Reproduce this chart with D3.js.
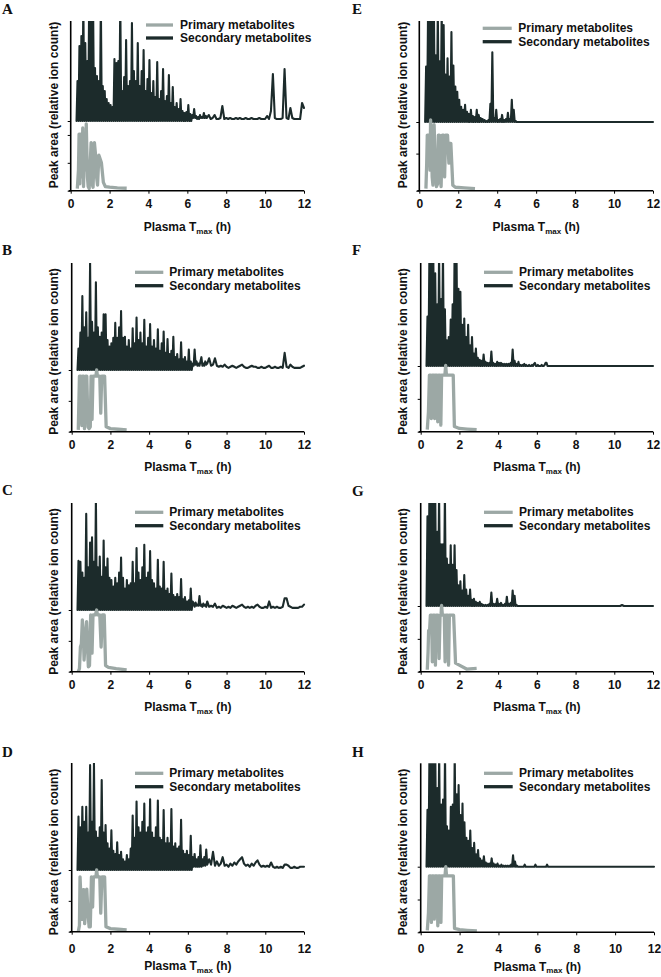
<!DOCTYPE html>
<html><head><meta charset="utf-8">
<script src="https://cdn.jsdelivr.net/npm/d3@7"></script>
<style>body{margin:0;background:#fff}svg{display:block}</style>
</head><body>
<svg id="chart" width="661" height="977"></svg>
<script>
// ---------- DATA ----------
// Plasma Tmax sampling grid (h) for the secondary-metabolite traces
const tmaxGrid = [
0.30,0.35,0.40,0.45,0.50,0.55,0.60,0.65,0.70,0.75,0.80,0.85,0.90,0.95,1.00,1.05,1.10,1.15,1.20,1.25,
1.30,1.35,1.40,1.45,1.50,1.55,1.60,1.65,1.70,1.75,1.80,1.85,1.90,1.95,2.00,2.05,2.10,2.15,2.20,2.25,
2.30,2.35,2.40,2.45,2.50,2.55,2.60,2.65,2.70,2.75,2.80,2.85,2.90,2.95,3.00,3.05,3.10,3.15,3.20,3.25,
3.30,3.35,3.40,3.45,3.50,3.55,3.60,3.65,3.70,3.75,3.80,3.85,3.90,3.95,4.00,4.05,4.10,4.15,4.20,4.25,
4.30,4.35,4.40,4.45,4.50,4.55,4.60,4.65,4.70,4.75,4.80,4.85,4.90,4.95,5.00,5.05,5.10,5.15,5.20,5.25,
5.30,5.35,5.40,5.45,5.50,5.55,5.60,5.65,5.70,5.75,5.80,5.85,5.90,5.95,6.00,6.05,6.10,6.15,6.20,6.25,
6.30,6.35,6.40,6.45,6.50,6.55,6.60,6.65,6.70,6.75,6.80,6.85,6.90,6.95,7.00,
7.1,7.2,7.3,7.4,7.5,7.6,7.7,7.8,7.9,8.0,
8.1,8.2,8.3,8.4,8.5,8.6,8.7,8.8,8.9,9.0,
9.1,9.2,9.3,9.4,9.5,9.6,9.7,9.8,9.9,10.0,
10.1,10.2,10.3,10.4,10.5,10.6,10.7,10.8,10.9,11.0,
11.1,11.2,11.3,11.4,11.5,11.6,11.7,11.8,11.9,12.0];

// Secondary metabolites, peak area (relative, 100 = top of panel)
const secA = [
0,40,0,75,0,85,0,120,0,78,0,60,0,120,0,120,0,120,0,53,
0,45,0,40,0,120,0,35,0,30,0,22,0,18,0,16,0,14,0,62,
0,58,0,60,0,120,0,30,0,44,0,81,0,35,0,40,0,98,0,50,
0,40,0,78,0,35,0,50,0,71,0,30,0,42,0,61,0,28,0,40,
0,24,0,59,0,22,0,30,0,52,0,20,0,25,0,46,0,18,0,34,
0,14,0,18,0,12,0,22,0,10,0,8,0,9,0,16,0,7,0,6,
3,12,3,5,2,4,2,6,3,4,3,8,3,5,3,
6,2,3,6,2,2,3,15,2,3,
2,3,2,2,3,2,3,2,2,3,
2,2,3,2,2,2,3,2,2,2,
5,2,10,47,3,2,2,2,3,52,
3,2,13,3,2,2,2,2,18,13];
const secB = [
0,20,0,35,0,69,0,40,0,54,0,30,0,100,0,45,0,35,0,82,
0,40,0,31,0,35,0,52,0,52,0,28,0,22,0,25,0,30,0,44,
0,30,0,40,0,55,0,30,0,31,0,22,0,28,0,20,0,39,0,25,
0,49,0,28,0,35,0,25,0,47,0,22,0,30,0,43,0,22,0,28,
0,20,0,38,0,18,0,25,0,36,0,16,0,29,0,15,0,18,0,31,
0,12,0,15,0,10,0,26,0,10,0,12,0,8,0,19,0,8,0,6,
4,19,5,8,4,6,4,8,12,4,6,4,8,5,6,
11,4,5,11,4,3,4,3,5,3,
2,3,4,3,2,3,4,5,3,2,
2,3,4,3,3,2,2,3,2,2,
3,4,2,2,3,2,2,3,2,16,
3,2,5,3,2,2,2,2,3,4];
const secC = [
0,46,0,45,0,35,0,30,0,90,0,40,0,63,0,68,0,45,0,105,
0,40,0,50,0,31,0,65,0,40,0,48,0,30,0,28,0,22,0,30,
0,25,0,35,0,49,0,30,0,20,0,28,0,23,0,25,0,45,0,25,
0,58,0,35,0,28,0,40,0,61,0,30,0,35,0,55,0,28,0,25,
0,20,0,47,0,22,0,20,0,45,0,18,0,20,0,15,0,34,0,14,
0,12,0,15,0,12,0,29,0,10,0,12,0,8,0,9,0,20,0,8,
6,3,7,4,5,4,13,4,5,3,6,4,5,3,8,
3,4,3,6,2,3,2,4,3,2,
3,2,4,3,2,3,4,5,3,2,
3,2,3,2,4,5,3,2,2,3,
2,8,2,3,2,3,2,2,3,11,
11,4,3,2,2,2,2,3,3,5];
const secD = [
0,50,0,40,0,59,0,45,0,59,0,35,0,98,0,45,0,100,0,36,
0,30,0,40,0,84,0,35,0,42,0,25,0,20,0,37,0,18,0,15,
0,26,0,14,0,17,0,10,0,8,0,14,0,10,0,20,0,51,0,30,
0,64,0,40,0,35,0,45,0,62,0,35,0,40,0,66,0,35,0,30,
0,40,0,65,0,30,0,28,0,56,0,25,0,30,0,25,0,57,0,22,
0,25,0,20,0,22,0,47,0,18,0,15,0,18,0,14,0,32,0,12,
3,15,3,10,3,12,3,23,3,10,4,12,4,19,5,
10,5,17,4,8,4,6,12,4,5,
3,6,4,7,5,8,10,12,6,4,
5,3,6,4,7,9,5,3,4,3,
4,3,7,3,2,3,2,3,2,5,
5,4,2,2,3,2,2,3,3,3];
const secE = [
0,55,0,110,0,110,0,110,0,110,0,66,0,110,0,60,0,110,0,96,
0,47,0,63,0,45,0,89,0,56,0,35,0,30,0,22,0,15,0,12,
0,17,0,10,0,8,0,12,0,6,0,5,0,12,0,7,0,4,0,3,
0,2,0,1,0,2,0,18,0,69,0,4,0,12,0,2,0,3,0,7,
0,2,0,3,0,9,0,3,0,22,0,12,0,1,0,0,0,0,0,0,
0,0,0,0,0,0,0,0,0,0,0,0,0,0,0,0,0,0,0,0,
0,0,0,0,0,0,0,0,0,0,0,0,0,0,0,
0,0,0,0,0,0,0,0,0,0,
0,0,0,0,0,0,0,0,0,0,
0,0,0,0,0,0,0,0,0,0,
0,0,0,0,0,0,0,0,0,0,
0,0,0,0,0,0,0,0,0,0];
const secF = [
0,48,0,110,0,110,0,110,0,90,0,60,0,110,0,65,0,110,0,55,
0,25,0,28,0,45,0,60,0,110,0,110,0,75,0,72,0,40,0,46,
0,28,0,40,0,20,0,28,0,12,0,17,0,8,0,6,0,5,0,11,
0,4,0,3,0,3,0,14,0,3,0,2,0,4,0,3,0,3,0,2,
0,2,0,2,0,2,0,3,0,16,0,5,0,2,0,4,0,1,0,1,
0,2,0,1,0,0,1,0,0,1,0,2,3,0,0,1,0,0,0,1,
0,0,1,3,3,0,0,0,0,0,0,0,0,0,0,
0,0,0,0,0,0,0,0,0,0,
0,0,0,0,0,0,0,0,0,0,
0,0,0,0,0,0,0,0,0,0,
0,0,0,0,0,0,0,0,0,0,
0,0,0,0,0,0,0,0,0,0];
const secG = [
0,87,0,110,0,110,0,110,0,110,0,72,0,110,0,60,0,60,0,110,
0,46,0,40,0,59,0,40,0,59,0,35,0,20,0,24,0,15,0,30,
0,16,0,10,0,16,0,6,0,7,0,4,0,3,0,4,0,2,0,1,
0,1,0,1,0,2,0,13,0,2,0,2,0,7,0,2,0,3,0,1,
0,2,0,9,0,2,0,3,0,15,0,10,0,1,0,0,0,0,0,0,
0,0,0,0,0,0,0,0,0,0,0,0,0,0,0,0,0,0,0,0,
0,0,0,0,0,0,0,0,0,0,0,0,0,0,0,
0,0,0,0,0,0,0,0,0,0,
0,0,0,0,0,0,0,0,0,0,
0,0,0,0,0,0,0,0,0,0,
0,0,0,1,0,0,0,0,0,0,
0,0,0,0,0,0,0,0,0,0];
const secH = [
0,55,0,110,0,110,0,110,0,110,0,76,0,110,0,60,0,65,0,110,
0,39,0,35,0,58,0,60,0,110,0,70,0,79,0,50,0,61,0,43,
0,28,0,25,0,35,0,18,0,23,0,12,0,16,0,8,0,6,0,10,
0,4,0,3,0,3,0,8,0,3,0,2,0,3,0,1,0,2,0,1,
0,1,0,1,0,1,0,2,0,11,0,5,0,1,0,0,0,0,0,0,
0,2,0,0,0,0,0,0,0,0,0,0,2,0,0,0,0,0,0,0,
0,0,0,0,2,0,0,0,0,0,0,0,0,0,0,
0,0,0,0,0,0,0,0,0,0,
0,0,0,0,0,0,0,0,0,0,
0,0,0,0,0,0,0,0,0,0,
0,0,0,0,0,0,0,0,0,0,
0,0,0,0,0,0,0,0,0,0];

// Primary metabolites [Tmax (h), peak area (relative, 100 = secondary baseline)]
const priA = [[0.34,3],[0.40,30],[0.43,81],[0.47,10],[0.50,81],[0.55,78],[0.58,20],[0.62,90],[0.66,6],[0.72,82],[0.76,30],[0.80,96],[0.86,20],[0.90,6],[0.95,3],[1.05,69],[1.10,10],[1.15,5],[1.22,69],[1.28,51],[1.33,20],[1.38,8],[1.45,51],[1.52,45],[1.58,40],[1.68,12],[1.78,6],[2.0,5],[2.4,4],[2.88,3.5]];
const priB = [[0.34,3],[0.40,90],[0.47,90],[0.52,10],[0.56,90],[0.62,90],[0.66,5],[0.72,90],[0.78,90],[0.84,8],[0.90,5],[0.96,8],[1.00,90],[1.05,20],[1.10,90],[1.25,90],[1.29,100],[1.33,90],[1.45,90],[1.50,30],[1.55,90],[1.70,90],[1.78,8],[2.0,5],[2.4,4],[2.84,3]];
const priC = [[0.34,0],[0.40,5],[0.45,40],[0.50,45],[0.55,84],[0.60,60],[0.64,19],[0.70,50],[0.77,81],[0.82,40],[0.86,8],[0.92,10],[0.98,92],[1.05,30],[1.10,92],[1.22,92],[1.29,100],[1.33,92],[1.45,92],[1.52,40],[1.58,92],[1.68,92],[1.75,10],[1.9,7],[2.3,5],[2.84,3]];
const priD = [[0.34,0],[0.40,10],[0.43,89],[0.47,60],[0.50,68],[0.55,20],[0.59,68],[0.63,68],[0.67,13],[0.72,40],[0.78,69],[0.84,30],[0.90,8],[0.96,8],[1.02,89],[1.08,40],[1.12,89],[1.25,89],[1.29,100],[1.33,89],[1.45,89],[1.50,30],[1.56,89],[1.70,89],[1.77,8],[2.0,5],[2.4,4],[2.84,3]];
const priE = [[0.34,3],[0.38,40],[0.41,81],[0.50,81],[0.55,30],[0.58,103],[0.62,81],[0.66,20],[0.70,8],[0.76,96],[0.80,60],[0.88,6],[0.94,10],[0.98,81],[1.03,81],[1.08,20],[1.12,6],[1.18,81],[1.25,81],[1.30,20],[1.35,81],[1.45,81],[1.52,40],[1.56,69],[1.62,69],[1.72,8],[1.85,5],[2.3,4],[2.86,3]];
const priF = [[0.34,3],[0.40,30],[0.45,86],[0.52,86],[0.55,20],[0.58,86],[0.68,86],[0.72,20],[0.75,86],[0.84,86],[0.88,15],[0.92,86],[1.00,86],[1.04,10],[1.08,86],[1.25,86],[1.29,101],[1.33,86],[1.68,86],[1.74,8],[2.0,5],[2.4,4],[2.89,3]];
const priG = [[0.34,3],[0.38,30],[0.41,63],[0.46,63],[0.50,86],[0.56,86],[0.60,15],[0.64,86],[0.72,86],[0.76,10],[0.80,86],[0.90,86],[0.95,20],[1.00,86],[1.05,86],[1.08,101],[1.12,86],[1.22,86],[1.26,15],[1.30,86],[1.40,86],[1.44,10],[1.48,86],[1.70,86],[1.80,13],[2.37,4],[2.89,5]];
const priH = [[0.34,3],[0.40,30],[0.45,86],[0.52,86],[0.55,15],[0.58,86],[0.66,86],[0.70,20],[0.74,86],[0.84,86],[0.88,10],[0.92,86],[1.00,86],[1.04,15],[1.08,86],[1.25,86],[1.29,100],[1.33,86],[1.68,86],[1.74,6],[2.0,4],[2.4,3],[2.89,2]];

const panelIds = ['A','B','C','D','E','F','G','H'];
const xTickValues = [0,2,4,6,8,10,12];
const legendLabels = ['Primary metabolites','Secondary metabolites'];
const yAxisTitle = 'Peak area (relative ion count)';
const xAxisTitle = ['Plasma T','max',' (h)'];

// ---------- LAYOUT (pixel positions per panel) ----------
const layout = {
  A:{x0:70.7,x1:304,top:21,base:121,axis:190.7,tickBase:208.5,titleBase:231,lx:2,ly:13.5,gx1:146,gx2:173,gy1:25,gy2:38,gtx:180,ylx:54,yly:105,pt:[0,40,80]},
  B:{x0:71.7,x1:304,top:263,base:370,axis:431.7,tickBase:449,titleBase:471,lx:2,ly:255,gx1:135,gx2:163.3,gy1:272.3,gy2:285.7,gtx:169.3,ylx:54,yly:351.5,pt:[0,50]},
  C:{x0:71.7,x1:304,top:503,base:610,axis:671.7,tickBase:689,titleBase:711,lx:2,ly:495,gx1:135,gx2:163.3,gy1:512.3,gy2:525.7,gtx:169.3,ylx:54,yly:591.5,pt:[0,50]},
  D:{x0:71.7,x1:304,top:763,base:870,axis:931.7,tickBase:953.5,titleBase:970,lx:2,ly:757,gx1:135,gx2:163.3,gy1:773.3,gy2:786.7,gtx:169.3,ylx:54,yly:852,pt:[0,50]},
  E:{x0:419.3,x1:653,top:21,base:122,axis:190.7,tickBase:208.5,titleBase:231,lx:352,ly:13.5,gx1:482.7,gx2:511.7,gy1:28.3,gy2:41.7,gtx:518.3,ylx:402.5,yly:105,pt:[0,54]},
  F:{x0:420.7,x1:653,top:263,base:366,axis:431.7,tickBase:449,titleBase:471,lx:352,ly:255,gx1:484,gx2:512.7,gy1:272.3,gy2:285.7,gtx:519,ylx:402.5,yly:351.5,pt:[0,50]},
  G:{x0:420.7,x1:653,top:503,base:606,axis:671.7,tickBase:689,titleBase:711,lx:352,ly:496,gx1:484,gx2:512.7,gy1:512.3,gy2:525.7,gtx:519,ylx:402.5,yly:591.5,pt:[0,50]},
  H:{x0:420.7,x1:654,top:763.3,base:866.7,axis:932.3,tickBase:953,titleBase:970.5,lx:352,ly:757,gx1:484,gx2:512.7,gy1:773.3,gy2:786.7,gtx:519,ylx:402.5,yly:852,pt:[0,50]}
};
const secSeries = {A:secA,B:secB,C:secC,D:secD,E:secE,F:secF,G:secG,H:secH};
const priSeries = {A:priA,B:priB,C:priC,D:priD,E:priE,F:priF,G:priG,H:priH};

const DARK = '#1c2b2b', GRAY = '#9ca8a5';
const SANS = '"Liberation Sans", Arial, Helvetica, sans-serif';
const SERIF = '"Liberation Serif", "Times New Roman", serif';

const svg = d3.select('#chart');
const defs = svg.append('defs');

panelIds.forEach(id => {
  const L = layout[id];
  const sec = secSeries[id], pri = priSeries[id];
  if (sec.length !== tmaxGrid.length) console.error('length mismatch', id, sec.length);
  const g = svg.append('g').attr('class','panel-'+id);
  const x = d3.scaleLinear().domain([0,12]).range([L.x0, L.x1]);
  const ySec = d3.scaleLinear().domain([0,100]).range([L.base, L.top]);
  const yPri = d3.scaleLinear().domain([0,100]).range([L.axis, L.base]);

  defs.append('clipPath').attr('id','clip'+id).append('rect')
    .attr('x', L.x0).attr('y', L.top).attr('width', L.x1 - L.x0 + 4).attr('height', L.base - L.top + 2);

  // secondary metabolites
  const secPts = tmaxGrid.map((t,j) => [t, sec[j]]).filter(d => d[1] != null);
  g.append('path').datum(secPts)
    .attr('d', d3.line().x(d => x(d[0])).y(d => ySec(d[1])))
    .attr('fill','none').attr('stroke',DARK).attr('stroke-width',2.1)
    .attr('stroke-linejoin','round').attr('stroke-linecap','round')
    .attr('clip-path','url(#clip'+id+')');

  // primary metabolites
  g.append('path').datum(pri)
    .attr('d', d3.line().x(d => x(d[0])).y(d => yPri(d[1])))
    .attr('fill','none').attr('stroke',GRAY).attr('stroke-width',3.3)
    .attr('stroke-linejoin','round');

  // x axis
  const xa = g.append('g').attr('transform',`translate(0,${L.axis})`)
    .call(d3.axisBottom(x).tickValues(xTickValues).tickSize(3).tickSizeOuter(0).tickFormat(d3.format('d')));
  xa.select('.domain').attr('stroke','#000').attr('stroke-width',1.6).attr('d',`M${L.x0-2},0H${L.x1}`);
  xa.selectAll('.tick line').attr('stroke','#000').attr('stroke-width',1);
  xa.selectAll('.tick text').attr('y', L.tickBase - L.axis).attr('dy', null)
    .attr('font-family', SANS).attr('font-size', 12).attr('font-weight','bold').attr('fill','#111');

  // y axis (primary ticks + secondary baseline tick)
  const ya = g.append('g').attr('transform',`translate(${L.x0},0)`)
    .call(d3.axisLeft(yPri).tickValues(L.pt).tickSize(3).tickFormat(''));
  ya.select('.domain').remove();
  ya.selectAll('.tick line').attr('stroke','#000').attr('stroke-width',1);
  const yb = g.append('g').attr('transform',`translate(${L.x0},0)`)
    .call(d3.axisLeft(ySec).tickValues([0]).tickSize(3).tickFormat(''));
  yb.select('.domain').remove();
  yb.selectAll('.tick line').attr('stroke','#000').attr('stroke-width',1);
  g.append('line').attr('x1',L.x0).attr('x2',L.x0).attr('y1',L.top).attr('y2',L.axis)
    .attr('stroke','#000').attr('stroke-width',1.6);

  // x-axis title with subscript
  const xt = g.append('text').attr('x',(L.x0+L.x1)/2).attr('y',L.titleBase)
    .attr('text-anchor','middle').attr('font-family',SANS).attr('font-size',12)
    .attr('font-weight','bold').attr('fill','#111');
  xt.append('tspan').text(xAxisTitle[0]);
  xt.append('tspan').attr('font-size',8).attr('dy',2.5).text(xAxisTitle[1]);
  xt.append('tspan').attr('dy',-2.5).text(xAxisTitle[2]);

  // y-axis title
  g.append('text').attr('transform',`translate(${L.ylx},${L.yly}) rotate(-90)`)
    .attr('text-anchor','middle').attr('dy','0.35em').attr('font-family',SANS)
    .attr('font-size',12).attr('font-weight','bold').attr('fill','#111').text(yAxisTitle);

  // panel letter
  g.append('text').attr('x',L.lx).attr('y',L.ly).attr('font-family',SERIF)
    .attr('font-size',15).attr('font-weight','bold').attr('fill','#111').text(id);

  // legend
  [[GRAY,L.gy1,legendLabels[0]],[DARK,L.gy2,legendLabels[1]]].forEach(([c,yy,lab]) => {
    g.append('line').attr('x1',L.gx1).attr('x2',L.gx2).attr('y1',yy).attr('y2',yy)
      .attr('stroke',c).attr('stroke-width',3.3);
    g.append('text').attr('x',L.gtx).attr('y',yy+4).attr('font-family',SANS)
      .attr('font-size',12).attr('font-weight','bold').attr('fill','#111').text(lab);
  });
});
</script>
</body></html>
